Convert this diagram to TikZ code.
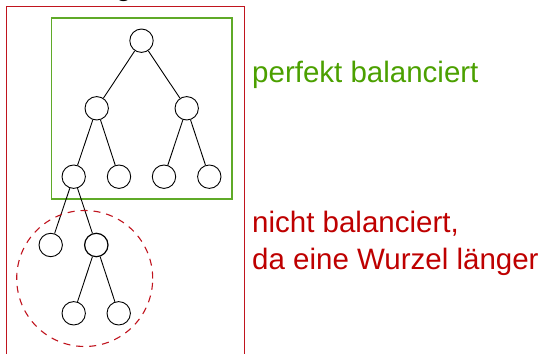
\documentclass[tikz,border=0pt]{standalone}
\usepackage{fontspec}
\setmainfont{Liberation Sans}
\definecolor{boxred}{RGB}{192,20,30}
\definecolor{txtred}{RGB}{190,0,0}
\definecolor{boxgreen}{RGB}{95,170,40}
\definecolor{txtgreen}{RGB}{75,160,0}
\begin{document}
\begin{tikzpicture}[x=1pt,y=1pt,
  knot/.style={circle,draw=black,line width=0.9pt,minimum size=23.4pt,inner sep=0pt},
  edge/.style={draw=black,line width=0.9pt},
  lbl/.style={font=\fontsize{29.5}{37}\selectfont,inner sep=0pt,anchor=base west,align=left}]
\useasboundingbox (0,0) rectangle (540,353);
\clip (0,0) rectangle (540,353);
% cut-off text at top
\node[lbl,text=black] (top) at (99,357.5) {, g};
% outer red box
\draw[boxred,line width=1pt] (6.5,-10) rectangle (244,346);
% green box
\draw[boxgreen,line width=1.3pt] (51.5,154) rectangle (232,335);
% nodes
\node[knot] (r) at (141.5,312.3) {};
\node[knot] (a) at (96.7,244.7) {};
\node[knot] (b) at (186.7,244.7) {};
\node[knot] (aa) at (73.7,176.3) {};
\node[knot] (ab) at (119,176.3) {};
\node[knot] (ba) at (164,176.3) {};
\node[knot] (bb) at (209.3,176.3) {};
\node[knot] (aaa) at (50.7,108) {};
\node[knot,line width=1.2pt] (aab) at (96.3,108) {};
\node[knot] (aaba) at (73.7,39.7) {};
\node[knot] (aabb) at (118.7,39.7) {};
% edges
\path[edge] (r) -- (a) (r) -- (b)
  (a) -- (aa) (a) -- (ab) (b) -- (ba) (b) -- (bb)
  (aa) -- (aaa) (aa) -- (aab)
  (aab) -- (aaba) (aab) -- (aabb);
% dashed circle
\node[circle,draw=boxred,dashed,dash pattern=on 7pt off 6pt,line width=1.1pt,minimum size=136pt,inner sep=0pt] (sub) at (84.7,74.5) {};
% labels
\node[lbl,text=txtgreen] (perf) at (252,270) {perfekt balanciert};
\node[lbl,text=txtred] (nicht) at (252,83) {nicht balanciert,\\da eine Wurzel länger};
\end{tikzpicture}
\end{document}
